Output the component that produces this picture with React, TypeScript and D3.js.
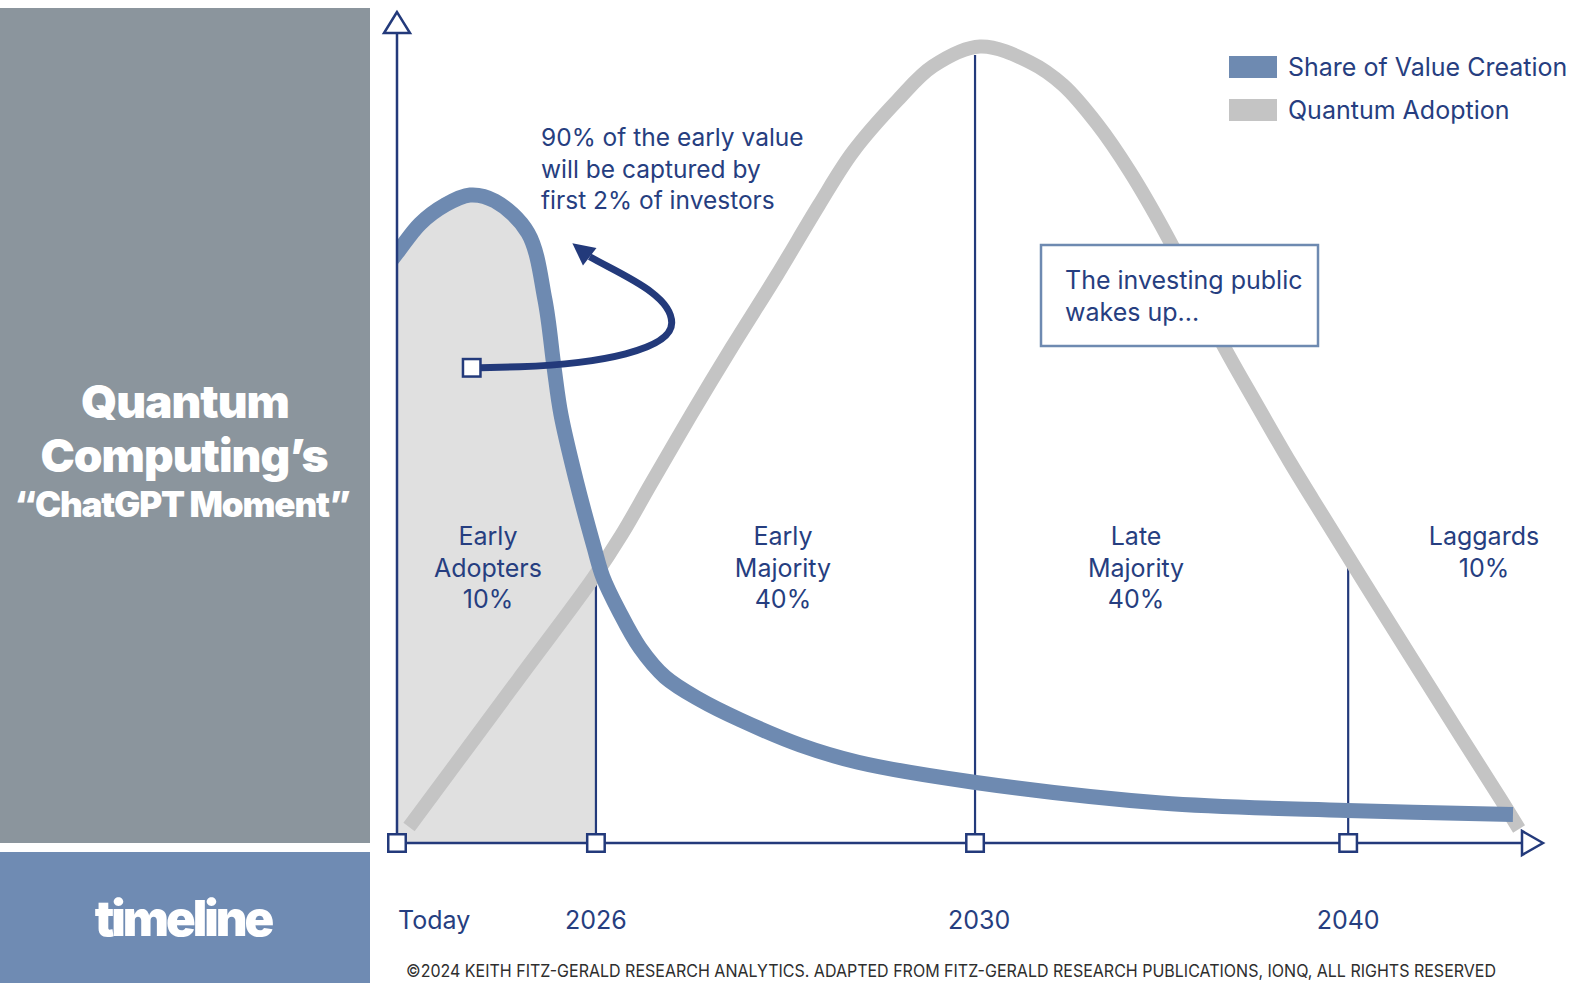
import React from "react";
import * as d3 from "d3";

const W = 1583;
const H = 983;

// ---- data (abstract timeline units 0..100, share units 0..100) ----
const tickLabels = ["Today", "2026", "2030", "2040"];
const tickPositions = [0, 17.36, 50.44, 83.0];
const dividerHeights = [0, 33.25, 98.5, 34.4];

const phaseLines = [
  ["Early", "Adopters", "10%"],
  ["Early", "Majority", "40%"],
  ["Late", "Majority", "40%"],
  ["Laggards", "10%"],
];
const phaseCenters = [7.94, 33.68, 64.49, 94.85];

const valueT = [-1.5, 0, 2.01, 4.19, 6.37, 8.55, 11.43, 12.91, 13.7, 14.3, 15.62, 17.19, 17.95, 19.37, 21.2, 23.39, 26.44, 29.93, 35.17, 40.23, 50.35, 66.67, 82.9, 97.38];
const valueV = [71.0, 73.75, 77.4, 79.75, 81.0, 80.25, 76.25, 67.9, 59.5, 53.6, 45.4, 37.0, 33.3, 29.0, 24.4, 20.75, 17.9, 15.4, 12.25, 10.1, 7.6, 5.0, 4.06, 3.56];

const adoptionT = [1.05, 10.56, 17.19, 19.63, 22.16, 25.65, 29.23, 33.16, 36.82, 39.79, 43.72, 46.77, 50.87, 55.24, 58.12, 61.08, 63.96, 67.19, 72.08, 75.04, 77.92, 79.93, 85.34, 92.93, 96.34, 97.91];
const adoptionV = [2.0, 20.4, 33.25, 38.6, 44.9, 53.5, 62.0, 71.0, 79.75, 86.4, 92.9, 97.1, 99.56, 97.6, 94.75, 89.9, 83.9, 75.9, 62.25, 54.75, 47.6, 42.9, 30.4, 13.1, 5.4, 1.75];

const legendLabels = ["Share of Value Creation", "Quantum Adoption"];
const titleLines = ["Quantum", "Computing\u2019s", "\u201CChatGPT Moment\u201D"];
const noteLines = ["90% of the early value", "will be captured by", "first 2% of investors"];
const boxLines = ["The investing public", "wakes up..."];
const footer = "\u00A92024 KEITH FITZ-GERALD RESEARCH ANALYTICS. ADAPTED FROM FITZ-GERALD RESEARCH PUBLICATIONS, IONQ, ALL RIGHTS RESERVED";

// ---- styles ----
const NAVY = "#233A7B";
const TEXT = "#263E80";
const BLUE = "#6E8AB1";
const GREY = "#C4C4C4";
const FONT = "Inter, 'Open Sans', sans-serif";

export default function App() {
  const x = d3.scaleLinear().domain([0, 100]).range([397, 1543]);
  const y = d3.scaleLinear().domain([0, 100]).range([843, 43]);

  const valuePts: [number, number][] = valueT.map((t, i) => [t, valueV[i]]);
  const adoptPts: [number, number][] = adoptionT.map((t, i) => [t, adoptionV[i]]);

  const curve = d3.curveCatmullRom.alpha(0.5);
  const line = d3
    .line<[number, number]>()
    .x((d) => x(d[0]))
    .y((d) => y(d[1]))
    .curve(curve);
  const area = d3
    .area<[number, number]>()
    .x((d) => x(d[0]))
    .y0(y(0))
    .y1((d) => y(d[1]))
    .curve(curve);

  const x0 = x(0);
  const yAxis = y(0);
  const xEnd = x(100);

  // annotation arrow anchored at a point in data space
  const ax = x(6.52);
  const ay = y(59.4);
  const sq = 17.5;
  const p = d3.path();
  p.moveTo(ax + sq / 2, ay);
  p.lineTo(ax + 48, ay - 1);
  p.bezierCurveTo(ax + 128, ay - 4, ax + 200, ay - 18, ax + 200, ay - 45);
  p.bezierCurveTo(ax + 200, ay - 73, ax + 150, ay - 93, ax + 118, ay - 111);
  const endX = ax + 118;
  const endY = ay - 111;
  const dirX = -18;
  const dirY = -14;
  const dl = Math.hypot(dirX, dirY);
  const ux = dirX / dl;
  const uy = dirY / dl;
  const headLen = 22;
  const headHalf = 11;
  const head = [
    [endX + ux * headLen, endY + uy * headLen],
    [endX - uy * headHalf, endY + ux * headHalf],
    [endX + uy * headHalf, endY - ux * headHalf],
  ]
    .map((q) => q.join(","))
    .join(" ");

  return (
    <svg
      width={W}
      height={H}
      style={{ position: "fixed", left: 0, top: 0, background: "#fff" }}
    >
      <defs>
        <clipPath id="shadeClip">
          <rect x={x0} y={0} width={x(tickPositions[1]) - x0} height={yAxis} />
        </clipPath>
        <clipPath id="plotClip">
          <rect x={x0} y={0} width={W - x0} height={H} />
        </clipPath>
      </defs>

      {/* left panels */}
      <rect x={0} y={8} width={370} height={835} fill="#8B959D" />
      <rect x={0} y={852} width={370} height={131} fill="#6F8BB3" />
      <g fill="#fff" fontFamily={FONT} fontWeight={900} textAnchor="middle">
        <text x={185} y={418} fontSize={46} letterSpacing={-1}>
          {titleLines[0]}
        </text>
        <text x={184} y={472} fontSize={46} letterSpacing={-1}>
          {titleLines[1]}
        </text>
        <text x={182} y={517} fontSize={35} letterSpacing={-1.2}>
          {titleLines[2]}
        </text>
        <text x={183} y={936} fontSize={49} letterSpacing={-3}>
          timeline
        </text>
      </g>

      {/* shaded early-adopter region */}
      <path d={area(valuePts) || ""} fill="#E0E0E0" clipPath="url(#shadeClip)" />

      {/* phase divider lines */}
      {tickPositions.slice(1).map((t, i) => (
        <line
          key={t}
          x1={x(t)}
          x2={x(t)}
          y1={yAxis}
          y2={y(dividerHeights[i + 1])}
          stroke={NAVY}
          strokeWidth={2.2}
        />
      ))}

      {/* curves */}
      <path d={line(adoptPts) || ""} fill="none" stroke={GREY} strokeWidth={14} />
      <path
        d={line(valuePts) || ""}
        fill="none"
        stroke={BLUE}
        strokeWidth={15}
        clipPath="url(#plotClip)"
      />

      {/* axes */}
      <line x1={x0} x2={x0} y1={yAxis} y2={33} stroke={NAVY} strokeWidth={2.5} />
      <polygon
        points={`${x0},12 ${x0 - 13},33 ${x0 + 13},33`}
        fill="#fff"
        stroke={NAVY}
        strokeWidth={2.5}
      />
      <line x1={x0} x2={xEnd - 21} y1={yAxis} y2={yAxis} stroke={NAVY} strokeWidth={2.5} />
      <polygon
        points={`${xEnd},${yAxis} ${xEnd - 21},${yAxis - 12} ${xEnd - 21},${yAxis + 12}`}
        fill="#fff"
        stroke={NAVY}
        strokeWidth={2.5}
      />
      {tickPositions.map((t) => (
        <rect
          key={"sq" + t}
          x={x(t) - sq / 2}
          y={yAxis - sq / 2}
          width={sq}
          height={sq}
          fill="#fff"
          stroke={NAVY}
          strokeWidth={2.5}
        />
      ))}

      {/* tick labels */}
      <g fill={TEXT} fontFamily={FONT} fontSize={25}>
        {tickLabels.map((lab, i) => (
          <text
            key={lab}
            x={i === 0 ? x0 + 1 : x(tickPositions[i]) + (i === 2 ? 4 : 0)}
            y={929}
            textAnchor={i === 0 ? "start" : "middle"}
          >
            {lab}
          </text>
        ))}
      </g>

      {/* phase labels */}
      <g fill={TEXT} fontFamily={FONT} fontSize={25} textAnchor="middle">
        {phaseLines.map((lines, i) =>
          lines.map((s, j) => (
            <text key={i + "-" + j} x={x(phaseCenters[i])} y={545 + j * 31.5}>
              {s}
            </text>
          ))
        )}
      </g>

      {/* annotation */}
      <path d={p.toString()} fill="none" stroke={NAVY} strokeWidth={7} />
      <polygon points={head} fill={NAVY} />
      <rect
        x={ax - sq / 2}
        y={ay - sq / 2}
        width={sq}
        height={sq}
        fill="#fff"
        stroke={NAVY}
        strokeWidth={2.5}
      />
      <g fill={TEXT} fontFamily={FONT} fontSize={24.5}>
        {noteLines.map((s, i) => (
          <text key={s} x={541} y={146 + i * 31.7}>
            {s}
          </text>
        ))}
      </g>

      {/* callout box */}
      <rect x={1041} y={245} width={277} height={101} fill="#fff" stroke={BLUE} strokeWidth={2.5} />
      <g fill={TEXT} fontFamily={FONT} fontSize={25}>
        {boxLines.map((s, i) => (
          <text key={s} x={1065} y={289 + i * 31.5}>
            {s}
          </text>
        ))}
      </g>

      {/* legend */}
      <rect x={1229} y={56} width={48} height={22} fill={BLUE} />
      <rect x={1229} y={99} width={48} height={22} fill={GREY} />
      <g fill={TEXT} fontFamily={FONT} fontSize={25}>
        <text x={1288} y={76}>{legendLabels[0]}</text>
        <text x={1288} y={119}>{legendLabels[1]}</text>
      </g>

      {/* footer */}
      <text
        x={406}
        y={977}
        fontFamily={FONT}
        fontSize={17}
        fill="#2E2E2E"
        textLength={1090}
        lengthAdjust="spacingAndGlyphs"
      >
        {footer}
      </text>
    </svg>
  );
}
